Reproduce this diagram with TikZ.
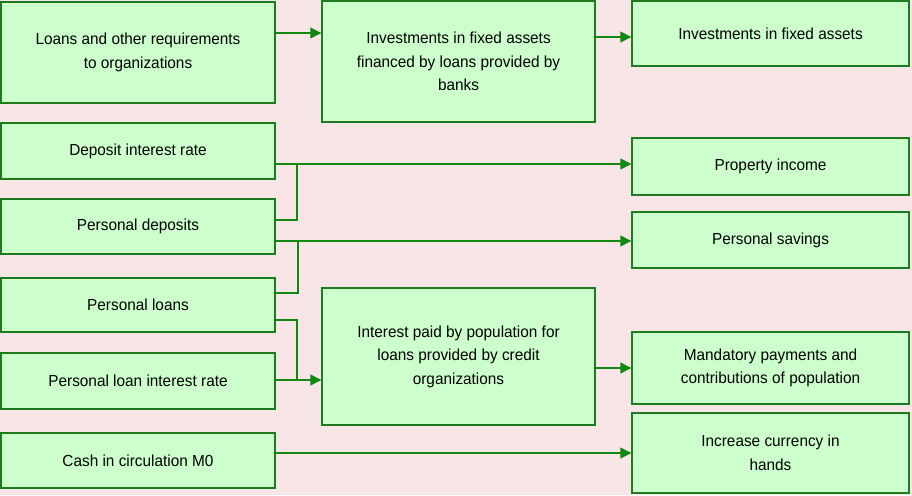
\documentclass[tikz,border=0pt]{standalone}
\usepackage{fontspec}
\setmainfont{Liberation Sans}[FakeStretch=0.96]
\usetikzlibrary{arrows.meta}
\definecolor{bgpink}{HTML}{F8E6E6}
\definecolor{boxfill}{HTML}{CCFFCC}
\definecolor{boxline}{HTML}{1E7A1E}
\definecolor{arrowgreen}{HTML}{118811}
\begin{document}
\begin{tikzpicture}[x=1pt,y=-1pt,
  box/.style={draw=boxline,line width=1.4pt,fill=boxfill,align=center,font=\fontsize{16}{23.5}\selectfont,inner sep=0pt},
  conn/.style={draw=arrowgreen,line width=1.3pt},
  arr/.style={conn,-{Triangle[length=11pt,width=11pt]}}]
\fill[bgpink] (0,0) rectangle (912,495);
\useasboundingbox (0,0) rectangle (912,495);
% boxes (corner coordinates in pixels)
\newcommand\mybox[6]{\node[box,minimum width=#4-#2,minimum height=#5-#3] (#1) at ({(#2+#4)/2},{(#3+#5)/2}) {#6};}
\mybox{loans}{1}{2}{275}{103}{Loans and other requirements\\to organizations}
\mybox{invfin}{322}{1}{595}{122}{Investments in fixed assets\\financed by loans provided by\\banks}
\mybox{invfix}{632}{1}{909}{66}{Investments in fixed assets}
\mybox{depint}{1}{123}{275}{179}{Deposit interest rate}
\mybox{perdep}{1}{199}{275}{254}{Personal deposits}
\mybox{perloan}{1}{278}{275}{332}{Personal loans}
\mybox{loanint}{1}{353}{275}{409}{Personal loan interest rate}
\mybox{cash}{1}{433}{275}{488}{Cash in circulation M0}
\mybox{propinc}{632}{138}{909}{195}{Property income}
\mybox{persav}{632}{212}{909}{268}{Personal savings}
\mybox{intpaid}{322}{288}{595}{425}{Interest paid by population for\\loans provided by credit\\organizations}
\mybox{mand}{632}{332}{909}{404}{Mandatory payments and\\contributions of population}
\mybox{incr}{632}{413}{909}{493}{Increase currency in\\hands}
% connectors
\draw[arr] (loans.east |- 0,33) -- (invfin.west |- 0,33);
\draw[arr] (invfin.east |- 0,37) -- (invfix.west |- 0,37);
\draw[arr] (depint.east |- 0,164) -- (propinc.west |- 0,164);
\draw[conn] (perdep.east |- 0,220) -- (297,220) -- (297,164);
\draw[arr] (perdep.east |- 0,241) -- (persav.west |- 0,241);
\draw[conn] (perloan.east |- 0,293) -- (298,293) -- (298,241);
\draw[conn] (perloan.east |- 0,320) -- (297,320) -- (297,380);
\draw[arr] (loanint.east |- 0,380) -- (intpaid.west |- 0,380);
\draw[arr] (intpaid.east |- 0,368) -- (mand.west |- 0,368);
\draw[arr] (cash.east |- 0,453) -- (incr.west |- 0,453);
\end{tikzpicture}
\end{document}
